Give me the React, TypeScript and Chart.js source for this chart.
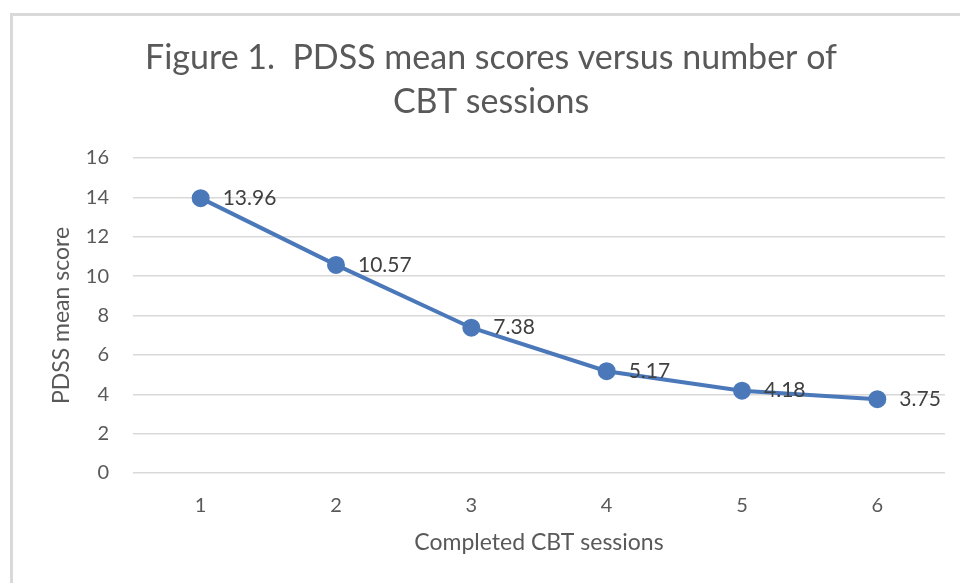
import React, { useEffect, useRef } from "react";
import { Chart, registerables } from "chart.js";

Chart.register(...registerables);

const sessions = ["1", "2", "3", "4", "5", "6"];
const meanScores = [13.96, 10.57, 7.38, 5.17, 4.18, 3.75];
const titleLines = ["Figure 1.  PDSS mean scores versus number of", "CBT sessions"];
const yTitle = "PDSS mean score";
const xTitle = "Completed CBT sessions";

const FONT = "Lato, 'Open Sans', sans-serif";
const TEXT = "#595959";

const framePlugin = {
  id: "frame",
  beforeDraw(chart: any) {
    const ctx = chart.ctx;
    ctx.save();
    ctx.fillStyle = "#ffffff";
    ctx.fillRect(0, 0, chart.width, chart.height);
    ctx.strokeStyle = "#d9d9d9";
    ctx.lineWidth = 3;
    ctx.strokeRect(11.5, 14.5, chart.width + 20, chart.height + 20);
    ctx.restore();
  },
  afterDraw(chart: any) {
    const ctx = chart.ctx;
    ctx.save();
    ctx.fillStyle = TEXT;
    ctx.font = `34px ${FONT}`;
    ctx.textAlign = "center";
    ctx.textBaseline = "middle";
    ctx.fillText(titleLines[0], 491, 58);
    ctx.fillText(titleLines[1], 491, 102);
    ctx.restore();
  },
};

const labelPlugin = {
  id: "valueLabels",
  afterDatasetsDraw(chart: any) {
    const ctx = chart.ctx;
    const meta = chart.getDatasetMeta(0);
    ctx.save();
    ctx.fillStyle = "#404040";
    ctx.font = `21px ${FONT}`;
    ctx.textAlign = "left";
    ctx.textBaseline = "middle";
    meta.data.forEach((pt: any, i: number) => {
      ctx.fillText(meanScores[i].toFixed(2), pt.x + 22, pt.y);
    });
    ctx.restore();
  },
};

export default function App() {
  const ref = useRef<HTMLCanvasElement>(null);
  useEffect(() => {
    const chart = new Chart(ref.current!, {
      type: "line",
      data: {
        labels: sessions,
        datasets: [
          {
            data: meanScores,
            borderColor: "#4a78b9",
            backgroundColor: "#4a78b9",
            borderWidth: 4,
            pointRadius: 7,
            pointHoverRadius: 7,
            pointBackgroundColor: "#4a78b9",
            pointBorderColor: "#4a78b9",
            tension: 0,
          },
        ],
      },
      options: {
        animation: false,
        responsive: false,
        maintainAspectRatio: false,
        layout: { padding: { left: 48, right: 15, top: 158, bottom: 0 } },
        plugins: {
          legend: { display: false },
          tooltip: { enabled: false },
          title: { display: false },
        },
        scales: {
          x: {
            offset: true,
            grid: { display: false, drawTicks: false },
            border: { display: false },
            ticks: { color: TEXT, font: { family: FONT, size: 20 }, padding: 21 },
            title: {
              display: true,
              text: xTitle,
              color: TEXT,
              font: { family: FONT, size: 23 },
              padding: { top: 0, bottom: 27 },
            },
            afterFit(scale: any) {
              scale.height = 110;
            },
          },
          y: {
            min: 0,
            max: 16,
            grid: { color: "#d9d9d9", lineWidth: 1.5, drawTicks: false },
            border: { display: false },
            ticks: { stepSize: 2, color: TEXT, font: { family: FONT, size: 20 }, padding: 24 },
            title: {
              display: true,
              text: yTitle,
              color: TEXT,
              font: { family: FONT, size: 23 },
              padding: { top: 0, bottom: 0 },
            },
            afterFit(scale: any) {
              scale.width = 85;
            },
          },
        },
      },
      plugins: [framePlugin, labelPlugin],
    });
    return () => chart.destroy();
  }, []);
  return (
    <div style={{ position: "absolute", left: 0, top: 0, width: 960, height: 583 }}>
      <canvas ref={ref} width={960} height={583} style={{ display: "block" }} />
    </div>
  );
}
